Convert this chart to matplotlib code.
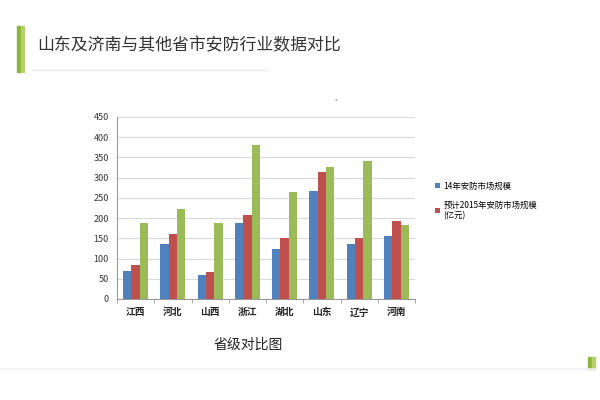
import matplotlib
matplotlib.use("Agg")
import matplotlib.pyplot as plt
import numpy as np
from matplotlib.patches import Rectangle
from matplotlib.lines import Line2D

plt.rcParams['font.family'] = ['Noto Sans CJK SC', 'DejaVu Sans']

provinces = ["江西", "河北", "山西", "浙江", "湖北", "山东", "辽宁", "河南"]
market_2014 = [70, 136, 60, 188, 124, 267, 136, 155]
market_2015 = [85, 160, 67, 207, 152, 313, 150, 193]
third_series = [188, 222, 187, 382, 264, 327, 341, 182]
legend_labels = ["14年安防市场规模", "预计2015年安防市场规模\n(亿元)"]
yticks = [0, 50, 100, 150, 200, 250, 300, 350, 400, 450]

W, H = 600, 400
fig = plt.figure(figsize=(6, 4), dpi=100)

def px(x0, y0, x1, y1):
    return [x0 / W, 1 - y1 / H, (x1 - x0) / W, (y1 - y0) / H]

ax = fig.add_axes(px(117, 117, 415, 299))
x = np.arange(len(provinces))
bw = 0.223
cols = ["#4F81BD", "#C0504D", "#9BBB59"]
ax.bar(x - bw, market_2014, bw, color=cols[0], label=legend_labels[0], zorder=3)
ax.bar(x, market_2015, bw, color=cols[1], label=legend_labels[1], zorder=3)
ax.bar(x + bw, third_series, bw, color=cols[2], zorder=3)
ax.set_xlim(-0.5, len(provinces) - 0.5)
ax.set_ylim(0, 450)
ax.set_yticks(yticks)
ax.set_yticklabels([str(v) for v in yticks], fontsize=6.5, color="#333333")
ax.yaxis.grid(True, color="#d9d9d9", linewidth=0.8, zorder=0)
ax.set_xticks(x)
ax.set_xticklabels(provinces, fontsize=7, fontweight="bold", color="#222222")
ax.tick_params(axis="x", length=0, pad=6)
ax.tick_params(axis="y", length=0, pad=6)
ax.set_xticks(np.arange(-0.5, len(provinces)), minor=True)
ax.tick_params(axis="x", which="minor", length=3, color="#999999")
for s in ["top", "right"]:
    ax.spines[s].set_visible(False)
ax.spines["left"].set_color("#999999")
ax.spines["bottom"].set_color("#999999")
ax.spines["left"].set_linewidth(0.8)
ax.spines["bottom"].set_linewidth(0.8)

leg = fig.legend(loc="upper left", bbox_to_anchor=(432 / W, 1 - 178 / H),
                 frameon=False, fontsize=6, handlelength=0.6, handleheight=0.6,
                 handletextpad=0.4, labelspacing=1.2, borderaxespad=0)

# decorations
fig.add_artist(Rectangle((17 / W, 1 - 72 / H), 2.5 / W, 46 / H, color="#8DB63C", transform=fig.transFigure))
fig.add_artist(Rectangle((21 / W, 1 - 72 / H), 2.5 / W, 46 / H, color="#B5D16E", transform=fig.transFigure))
fig.add_artist(Line2D([32 / W, 267 / W], [1 - 70 / H, 1 - 70 / H], color="#e6e6e6", linewidth=0.8, transform=fig.transFigure))
fig.text(37 / W, 1 - 45 / H, "山东及济南与其他省市安防行业数据对比", fontsize=12.2,
         color="#333333", va="center", ha="left")
fig.text(338 / W, 1 - 99 / H, "。", fontsize=5, color="#999999", va="center", ha="center")
fig.text(248 / W, 1 - 345 / H, "省级对比图", fontsize=10, color="#222222", va="center", ha="center")
fig.add_artist(Line2D([0, 595 / W], [1 - 369 / H, 1 - 369 / H], color="#eef1f5", linewidth=1.2, transform=fig.transFigure))
fig.add_artist(Rectangle((588 / W, 1 - 369 / H), 2.5 / W, 12 / H, color="#8DB63C", transform=fig.transFigure))
fig.add_artist(Rectangle((592 / W, 1 - 369 / H), 2.5 / W, 12 / H, color="#B5D16E", transform=fig.transFigure))

fig.savefig("out.png", dpi=100)
